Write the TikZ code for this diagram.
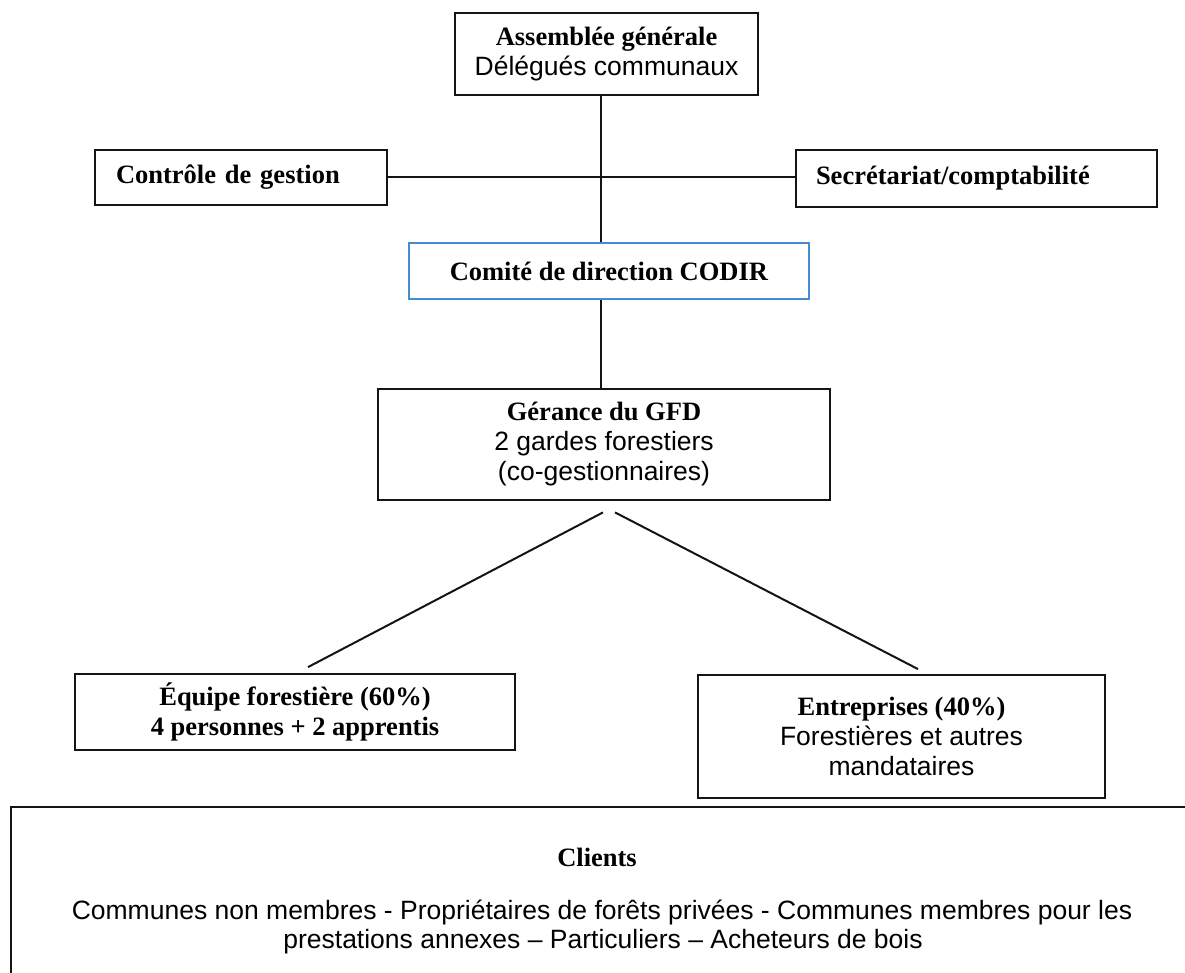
\documentclass[tikz,border=0pt]{standalone}
\usepackage{fontspec}
\setmainfont{Liberation Serif}
\newfontfamily\arial{Liberation Sans}
\definecolor{codirblue}{RGB}{70,140,210}
\definecolor{ink}{RGB}{20,20,20}
\begin{document}
\begin{tikzpicture}[x=1pt,y=-1pt,
  box/.style={draw=ink, line width=1.8pt, inner sep=0pt, align=center,
    font=\fontsize{26.5}{30}\selectfont},
  leftbox/.style={box, align=left, inner xsep=21pt},
  txt/.style={inner sep=0pt, font=\fontsize{26.5}{29}\selectfont},
  conn/.style={draw=ink, line width=2pt},
]
\useasboundingbox (0,0) rectangle (1185,973);
\clip (0,0) rectangle (1185,973);
\node[box, minimum width=303pt, minimum height=82pt] (top) at (606.5,54)
  {\textbf{Assemblée générale}\\{\arial Délégués communaux}};
\node[leftbox, text width=250pt, minimum height=55pt] (ctrl) at (241,177.5)
  {\textbf{Contrôle de gestion}};
\node[leftbox, inner xsep=20pt, text width=321pt, minimum height=57pt] (secr) at (976.5,178.5)
  {\textbf{Secrétariat/comptabilité}};
\node[box, draw=codirblue, minimum width=400pt, minimum height=56pt] (codir) at (609,271)
  {\textbf{Comité de direction CODIR}};
\node[box, minimum width=452pt, minimum height=111pt] (ger) at (604,444.5)
  {\textbf{Gérance du GFD}\\{\arial 2 gardes forestiers}\\{\arial (co-gestionnaires)}};
\node[box, minimum width=440pt, minimum height=76pt] (equipe) at (295,712)
  {\textbf{Équipe forestière (60\%)}\\\textbf{4 personnes + 2 apprentis}};
\node[box, minimum width=407pt, minimum height=123pt] (entr) at (901.5,736.5)
  {\textbf{Entreprises (40\%)}\\{\arial Forestières et autres}\\{\arial mandataires}};
\node[box, minimum width=1190pt, minimum height=190pt, anchor=north west] (clients) at (10,806) {};
\node[txt, anchor=base] (clientstitle) at (597,866) {\textbf{Clients}};
\node[txt, anchor=base] (clientsline1) at (602,919)
  {\arial Communes non membres - Propriétaires de forêts privées - Communes membres pour les};
\node[txt, anchor=base] (clientsline2) at (603,948)
  {\arial prestations annexes – Particuliers – Acheteurs de bois};
% connectors
\draw[conn] ([xshift=-5.5pt]top.south) -- ([xshift=-5.5pt]top.south |- codir.north);
\draw[conn] (ctrl.east) -- (secr.west |- ctrl.east);
\draw[conn] ([xshift=-8pt]codir.south) -- ([xshift=-8pt]codir.south |- ger.north);
\coordinate (gl) at ([xshift=-1pt,yshift=-11.5pt]ger.south);
\coordinate (gr) at ([xshift=11pt,yshift=-11.5pt]ger.south);
\coordinate (el) at ([xshift=13pt,yshift=6pt]equipe.north);
\coordinate (er) at ([xshift=16.5pt,yshift=5pt]entr.north);
\draw[conn] (gl) -- (el);
\draw[conn] (gr) -- (er);
\end{tikzpicture}
\end{document}
